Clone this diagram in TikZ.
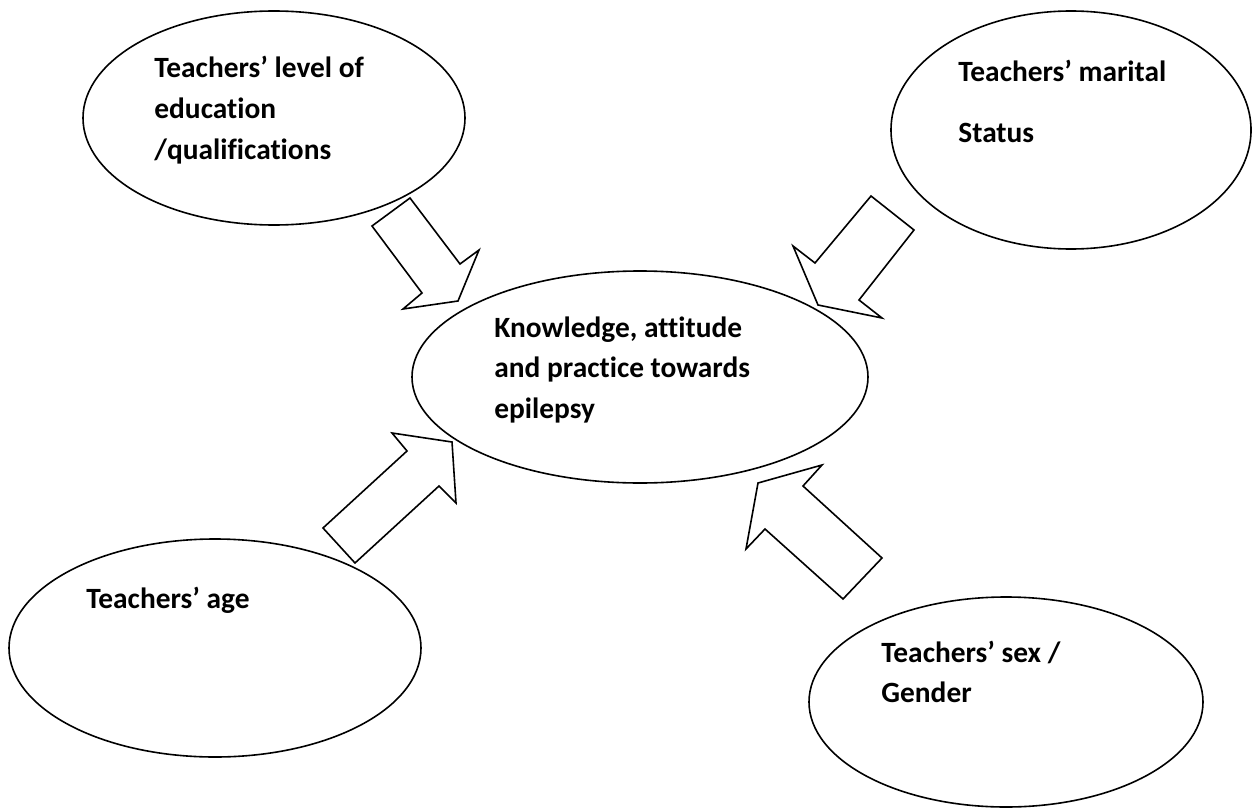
\documentclass[tikz,border=0pt]{standalone}
\usepackage{fontspec}
\setmainfont{Carlito}[Ligatures=NoCommon]
\usepackage{tikz}
\usetikzlibrary{shapes.geometric}

\tikzset{
 bubble/.style={draw, ellipse, line width=0.8pt, inner sep=0pt, outer sep=0pt},
 blockarrow/.style={line width=0.8pt, line join=miter},
 txt/.style={anchor=base west, inner sep=0pt, font=\fontsize{14.7}{20.25}\selectfont\bfseries}
}

\begin{document}
\begin{tikzpicture}[x=0.5pt,y=-0.5pt]
 \useasboundingbox (0,0) rectangle (1257,808);

 \node[bubble, minimum width=191pt, minimum height=107pt] (edu) at (274,118) {};
 \node[bubble, minimum width=180pt, minimum height=119pt] (mar) at (1071,130) {};
 \node[bubble, minimum width=228pt, minimum height=106pt] (kap) at (640,377) {};
 \node[bubble, minimum width=206pt, minimum height=109pt] (age) at (215,648) {};
 \node[bubble, minimum width=197pt, minimum height=105pt] (sex) at (1006,702) {};

 \coordinate (e1) at (372,226);
 \coordinate (e2) at (410,198);
 \coordinate (e3) at (460,264);
 \coordinate (e4) at (479,250);
 \coordinate (e5) at (458,301);
 \coordinate (e6) at (403,309);
 \coordinate (e7) at (422,293);

 \coordinate (m1) at (871,196);
 \coordinate (m2) at (914,230);
 \coordinate (m3) at (859,300);
 \coordinate (m4) at (882,318);
 \coordinate (m5) at (818,305);
 \coordinate (m6) at (793,246);
 \coordinate (m7) at (815,263);

 \coordinate (a1) at (323,528);
 \coordinate (a2) at (355,563);
 \coordinate (a3) at (439,486);
 \coordinate (a4) at (456,503);
 \coordinate (a5) at (452,442);
 \coordinate (a6) at (392,433);
 \coordinate (a7) at (407,451);

 \coordinate (s1) at (882,558);
 \coordinate (s2) at (843,599);
 \coordinate (s3) at (765,529);
 \coordinate (s4) at (746,549);
 \coordinate (s5) at (758,483);
 \coordinate (s6) at (822,465);
 \coordinate (s7) at (803,486);

 \draw[blockarrow] (e1)--(e2)--(e3)--(e4)--(e5)--(e6)--(e7)--cycle;
 \draw[blockarrow] (m1)--(m2)--(m3)--(m4)--(m5)--(m6)--(m7)--cycle;
 \draw[blockarrow] (a1)--(a2)--(a3)--(a4)--(a5)--(a6)--(a7)--cycle;
 \draw[blockarrow] (s1)--(s2)--(s3)--(s4)--(s5)--(s6)--(s7)--cycle;

 \node[txt] (edutxt) at (154,78) {\begin{tabular}[t]{@{}l@{}}Teachers’ level of\\ education\\ /qualifications\end{tabular}};
 \node[txt] (martxt) at (958,82) {\begin{tabular}[t]{@{}l@{}}Teachers’ marital\\[10.25pt] Status\end{tabular}};
 \node[txt] (kaptxt) at (494,337) {\begin{tabular}[t]{@{}l@{}}Knowledge, attitude\\ and practice towards\\ epilepsy\end{tabular}};
 \node[txt] (agetxt) at (86,608) {Teachers’ age};
 \node[txt] (sextxt) at (881,662) {\begin{tabular}[t]{@{}l@{}}Teachers’ sex /\\ Gender\end{tabular}};

\end{tikzpicture}
\end{document}
